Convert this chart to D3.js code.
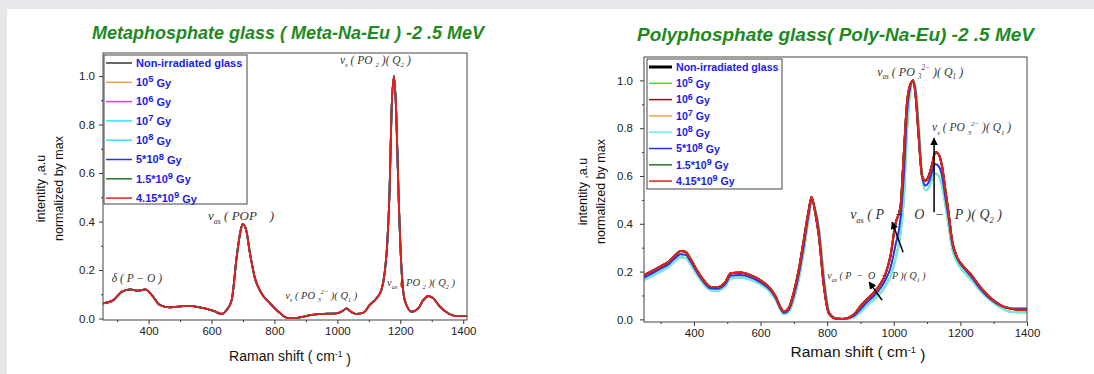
<!DOCTYPE html>
<html>
<head>
<meta charset="utf-8">
<script src="https://cdn.jsdelivr.net/npm/d3@7/dist/d3.min.js"></script>
<style>
  html, body { margin: 0; padding: 0; background: #e5e7eb; }
  #panel { position: absolute; left: 7px; top: 9px; width: 1087px; height: 365px; background: #fff; }
  svg { position: absolute; left: 0; top: 0; }
  text { font-family: Arial, 'Liberation Sans', sans-serif; }
</style>
</head>
<body>
<div id="panel"></div>
<svg id="chart" width="1094" height="374"></svg>
<script>
// legend labels (base, exponent, suffix)
const seriesLabels = [
  ['Non-irradiated glass', '', ''],
  ['10', '5', ' Gy'],
  ['10', '6', ' Gy'],
  ['10', '7', ' Gy'],
  ['10', '8', ' Gy'],
  ['5*10', '8', ' Gy'],
  ['1.5*10', '9', ' Gy'],
  ['4.15*10', '9', ' Gy']
];
const metaColors = ['#000000', '#f4a04a', '#e040e0', '#33e6f0', '#33e6f0', '#2a32e8', '#1e7a1e', '#f01818'];
const polyColors = ['#000000', '#33e633', '#8b1010', '#f4a04a', '#66f0f0', '#2a32e8', '#1e7a1e', '#f01818'];

// Meta-Na-Eu spectrum (all doses overlap)
const metaX = [255, 288, 314, 341, 367, 389, 410, 436, 468, 521, 563, 606, 632, 648, 664, 680, 692, 699, 710, 722,
  738, 759, 786, 813, 840, 872, 913, 955, 997, 1018, 1029, 1039, 1061, 1082, 1103, 1124, 1140, 1150, 1159, 1166,
  1172, 1180, 1187, 1194, 1204, 1214, 1236, 1257, 1273, 1289, 1305, 1326, 1353, 1379, 1411];
const metaY = [0.063, 0.076, 0.11, 0.12, 0.115, 0.12, 0.097, 0.056, 0.046, 0.052, 0.046, 0.032, 0.019, 0.035, 0.076, 0.255, 0.36, 0.39, 0.365, 0.27,
  0.166, 0.104, 0.063, 0.028, 0.003, 0.003, 0.014, 0.019, 0.021, 0.032, 0.042, 0.032, 0.019, 0.024, 0.056, 0.083, 0.118, 0.186, 0.32, 0.53,
  0.85, 1.0, 0.85, 0.53, 0.2, 0.076, 0.028, 0.042, 0.076, 0.093, 0.083, 0.049, 0.021, 0.01, 0.01];

// Poly-Na-Eu spectra
const polyX = [250, 275, 300, 325, 350, 360, 375, 390, 410, 430, 450, 470, 480, 495, 510, 540, 570, 600, 630, 645,
  660, 670, 685, 700, 715, 730, 745, 753, 765, 775, 790, 805, 825, 845, 860, 880, 900, 920, 940, 960,
  975, 990, 1005, 1020, 1030, 1040, 1050, 1058, 1066, 1075, 1085, 1095, 1105, 1115, 1125, 1135, 1145, 1155, 1165, 1175,
  1190, 1210, 1230, 1260, 1290, 1320, 1350, 1375, 1400];
const polyHigh = [0.185, 0.203, 0.222, 0.242, 0.277, 0.286, 0.282, 0.252, 0.203, 0.162, 0.136, 0.134, 0.138, 0.158, 0.193, 0.196, 0.185, 0.163, 0.128, 0.097,
  0.05, 0.032, 0.048, 0.115, 0.21, 0.335, 0.46, 0.512, 0.44, 0.35, 0.14, 0.025, 0.004, 0.002, 0.005, 0.02, 0.055, 0.085, 0.112, 0.148,
  0.19, 0.265, 0.4, 0.47, 0.69, 0.91, 0.985, 1.0, 0.93, 0.76, 0.6, 0.58, 0.6, 0.648, 0.7, 0.69, 0.64, 0.54, 0.44, 0.33,
  0.26, 0.22, 0.19, 0.135, 0.09, 0.06, 0.045, 0.04, 0.04];
const polyMid = [0.175, 0.193, 0.212, 0.232, 0.265, 0.273, 0.27, 0.242, 0.195, 0.155, 0.13, 0.128, 0.132, 0.15, 0.183, 0.186, 0.176, 0.155, 0.121, 0.09,
  0.045, 0.027, 0.04, 0.1, 0.19, 0.31, 0.445, 0.5, 0.45, 0.37, 0.16, 0.03, 0.004, 0.002, 0.004, 0.014, 0.042, 0.072, 0.098, 0.13,
  0.165, 0.215, 0.31, 0.42, 0.6, 0.87, 0.975, 1.0, 0.945, 0.78, 0.6, 0.56, 0.575, 0.615, 0.65, 0.64, 0.6, 0.51, 0.42, 0.32,
  0.255, 0.215, 0.183, 0.128, 0.085, 0.058, 0.047, 0.045, 0.045];
const polyLow = [0.165, 0.182, 0.2, 0.22, 0.252, 0.26, 0.257, 0.23, 0.185, 0.146, 0.122, 0.12, 0.124, 0.14, 0.172, 0.175, 0.166, 0.146, 0.113, 0.084,
  0.04, 0.022, 0.032, 0.085, 0.17, 0.29, 0.43, 0.49, 0.455, 0.38, 0.18, 0.035, 0.005, 0.002, 0.003, 0.01, 0.03, 0.058, 0.083, 0.11,
  0.14, 0.18, 0.25, 0.36, 0.5, 0.8, 0.96, 1.0, 0.96, 0.8, 0.6, 0.54, 0.55, 0.585, 0.61, 0.6, 0.56, 0.48, 0.39, 0.3,
  0.24, 0.2, 0.17, 0.12, 0.08, 0.05, 0.032, 0.03, 0.03];
const polySeries = [polyHigh, polyLow, polyHigh, polyLow, polyLow, polyMid, polyHigh, polyHigh];

const xTicks = [400, 600, 800, 1000, 1200, 1400];
const xMinor = [300, 500, 700, 900, 1100, 1300];
const yTicks = [0, 0.2, 0.4, 0.6, 0.8, 1.0];
const yMinor = [0.1, 0.3, 0.5, 0.7, 0.9];

// annotations: [x, y, font size, parts]; part = [text, 'sub' | 'sup' | '']
const metaNotes = [
  [283, 0.15, 11.5, [['δ ( P − O )', '']]],
  [589, 0.406, 13, [['ν', ''], ['as', 'sub'], [' ( POP    )', '']]],
  [834, 0.08, 10.5, [['ν', ''], ['s', 'sub'], [' ( PO ', ''], ['3', 'sub'], ['2−', 'sup'], [' )( Q', ''], ['1', 'sub'], [' )', '']]],
  [1158, 0.134, 10.5, [['ν', ''], ['as', 'sub'], [' ( PO ', ''], ['2', 'sub'], [' )( Q', ''], ['2', 'sub'], [' )', '']]],
  [1008, 1.05, 11.5, [['ν', ''], ['s', 'sub'], [' ( PO ', ''], ['2', 'sub'], [' )( Q', ''], ['2', 'sub'], [' )', '']]]
];
const polyNotes = [
  [950, 1.02, 12, [['ν', ''], ['as', 'sub'], [' ( PO ', ''], ['3', 'sub'], ['2−', 'sup'], [' )( Q', ''], ['1', 'sub'], [' )', '']]],
  [1115, 0.787, 11.5, [['ν', ''], ['s', 'sub'], [' ( PO ', ''], ['3', 'sub'], ['2−', 'sup'], [' )( Q', ''], ['1', 'sub'], [' )', '']]],
  [869, 0.419, 14, [['ν', ''], ['as', 'sub'], [' ( P   −   O   −   P )( Q', ''], ['2', 'sub'], [' )', '']]],
  [800, 0.168, 10, [['ν', ''], ['as', 'sub'], [' ( P  −  O  −  P )( Q', ''], ['1', 'sub'], [' )', '']]]
];
// arrows: [x1, y1, x2, y2] in data units
const polyArrows = [
  [1121, 0.448, 1121, 0.758],
  [1028, 0.281, 995, 0.407],
  [965, 0.08, 926, 0.156]
];

const svg = d3.select('#chart');

svg.append('defs').append('marker')
  .attr('id', 'head')
  .attr('viewBox', '0 0 10 10')
  .attr('refX', 9).attr('refY', 5)
  .attr('markerWidth', 5).attr('markerHeight', 5)
  .attr('orient', 'auto')
  .append('path')
  .attr('d', 'M0,0 L10,5 L0,10 z')
  .attr('fill', '#000');

function drawPanel(cfg) {
  const x = d3.scaleLinear().domain(cfg.xDomain).range([cfg.left, cfg.right]);
  const y = d3.scaleLinear().domain(cfg.yDomain).range([cfg.bottom, cfg.top]);
  const g = svg.append('g');

  // title
  g.append('text')
    .attr('x', cfg.titleX).attr('y', cfg.titleY)
    .style('font-size', cfg.titleFont + 'px')
    .style('font-weight', 'bold')
    .style('font-style', 'italic')
    .style('fill', '#1e8a1e')
    .text(cfg.title);

  // axes
  const xAxis = g.append('g')
    .attr('transform', `translate(0,${cfg.bottom})`)
    .call(d3.axisBottom(x).tickValues(xTicks).tickSize(4).tickPadding(3).tickFormat(d3.format('d')));
  g.append('g')
    .attr('transform', `translate(0,${cfg.bottom})`)
    .call(d3.axisBottom(x).tickValues(xMinor).tickSize(2).tickFormat(''));
  const yAxis = g.append('g')
    .attr('transform', `translate(${cfg.left},0)`)
    .call(d3.axisLeft(y).tickValues(yTicks).tickSize(4).tickPadding(cfg.yPad).tickFormat(d3.format('.1f')));
  g.append('g')
    .attr('transform', `translate(${cfg.left},0)`)
    .call(d3.axisLeft(y).tickValues(yMinor).tickSize(2).tickFormat(''));
  g.selectAll('.domain').remove();
  g.selectAll('.tick line').attr('stroke', '#333');
  g.selectAll('.tick text')
    .style('font-size', '11.5px')
    .style('font-family', 'Arial, sans-serif')
    .style('fill', '#222');

  // clipped curves
  const clipId = 'clip' + cfg.id;
  g.append('clipPath').attr('id', clipId)
    .append('rect')
    .attr('x', cfg.left).attr('y', cfg.top)
    .attr('width', cfg.right - cfg.left).attr('height', cfg.bottom - cfg.top);

  const line = d3.line()
    .x(d => x(d[0]))
    .y(d => y(d[1]))
    .curve(d3.curveMonotoneX);

  g.append('g').attr('clip-path', `url(#${clipId})`)
    .selectAll('path')
    .data(cfg.series)
    .join('path')
    .attr('d', d => line(cfg.xs.map((v, i) => [v, d[i]])))
    .attr('fill', 'none')
    .attr('stroke', (d, i) => cfg.colors[i])
    .attr('stroke-width', cfg.lineWidth)
    .attr('stroke-linejoin', 'round');

  // frame
  g.append('rect')
    .attr('x', cfg.left).attr('y', cfg.top)
    .attr('width', cfg.right - cfg.left).attr('height', cfg.bottom - cfg.top)
    .attr('fill', 'none')
    .attr('stroke', '#444')
    .attr('stroke-width', 1);

  // legend
  const lg = g.append('g');
  lg.append('rect')
    .attr('x', cfg.legend.x).attr('y', cfg.legend.y)
    .attr('width', cfg.legend.w).attr('height', cfg.legend.h)
    .attr('fill', '#fff')
    .attr('stroke', '#444');
  const rows = lg.selectAll('g.row')
    .data(seriesLabels)
    .join('g')
    .attr('class', 'row')
    .attr('transform', (d, i) => `translate(${cfg.legend.x},${cfg.legend.first + i * cfg.legend.step})`);
  rows.append('line')
    .attr('x1', 2).attr('x2', cfg.legend.lineLen)
    .attr('stroke', (d, i) => cfg.colors[i])
    .attr('stroke-width', (d, i) => i === 0 ? cfg.legend.blackWidth : 1.5);
  const lt = rows.append('text')
    .attr('x', cfg.legend.lineLen + 4)
    .attr('dy', '0.35em')
    .style('font-size', cfg.legend.font + 'px')
    .style('font-weight', 'bold')
    .style('fill', '#1a1af0');
  lt.append('tspan').text(d => d[0]);
  lt.append('tspan')
    .attr('dy', d => d[1] ? '-0.4em' : 0)
    .style('font-size', d => d[1] ? '0.85em' : null)
    .text(d => d[1]);
  lt.append('tspan')
    .attr('dy', d => d[1] ? '0.4em' : 0)
    .text(d => d[2]);

  // axis labels
  g.append('text')
    .attr('x', cfg.xLabelX).attr('y', cfg.xLabelY)
    .attr('text-anchor', 'middle')
    .style('font-size', cfg.xLabelFont + 'px')
    .style('fill', '#111')
    .call(t => {
      t.append('tspan').text('Raman shift ( cm');
      t.append('tspan').attr('dy', '-0.45em').style('font-size', '0.6em').text('-1');
      t.append('tspan').attr('dy', '0.45em').text(' )');
    });
  const yl = g.append('text')
    .attr('transform', `translate(${cfg.yLabelX},${(cfg.top + cfg.bottom) / 2 + 2}) rotate(-90)`)
    .attr('text-anchor', 'middle')
    .style('font-size', '12.5px')
    .style('fill', '#111');
  yl.append('tspan').attr('x', 0).attr('dy', 0).text('intentity ,a.u');
  yl.append('tspan').attr('x', 0).attr('dy', '1.45em').text('normalized by max');

  // annotations
  cfg.notes.forEach(n => {
    const t = g.append('text')
      .attr('x', x(n[0])).attr('y', y(n[1]))
      .style('font-family', "'Liberation Serif', 'Times New Roman', serif")
      .style('font-style', 'italic')
      .style('font-size', n[2] + 'px')
      .style('fill', '#333')
      .attr('xml:space', 'preserve');
    let shift = 0;
    n[3].forEach(p => {
      const target = p[1] === 'sub' ? 0.3 : p[1] === 'sup' ? -0.45 : 0;
      t.append('tspan')
        .attr('dy', ((target - shift) * n[2]).toFixed(2))
        .style('font-size', p[1] ? (n[2] * 0.6) + 'px' : null)
        .text(p[0]);
      shift = target;
    });
  });

  g.selectAll('line.arrow')
    .data(cfg.arrows)
    .join('line')
    .attr('class', 'arrow')
    .attr('x1', d => x(d[0])).attr('y1', d => y(d[1]))
    .attr('x2', d => x(d[2])).attr('y2', d => y(d[3]))
    .attr('stroke', '#000')
    .attr('stroke-width', 1.5)
    .attr('marker-end', 'url(#head)');
}

drawPanel({
  id: 'meta',
  title: 'Metaphosphate glass ( Meta-Na-Eu ) -2 .5 MeV',
  titleX: 92, titleY: 39, titleFont: 18,
  left: 103, right: 467, top: 53, bottom: 320,
  xDomain: [255, 1412], yDomain: [-0.006, 1.095],
  yPad: 4,
  xs: metaX,
  series: seriesLabels.map(() => metaY),
  colors: metaColors,
  lineWidth: 1.8,
  legend: { x: 104, y: 55, w: 143, h: 149, first: 63, step: 19.3, lineLen: 28, font: 11, blackWidth: 1.2 },
  xLabelX: 290, xLabelY: 361, xLabelFont: 14,
  yLabelX: 45,
  notes: metaNotes,
  arrows: []
});

drawPanel({
  id: 'poly',
  title: 'Polyphosphate glass( Poly-Na-Eu) -2 .5 MeV',
  titleX: 637, titleY: 41, titleFont: 19,
  left: 644, right: 1027, top: 57, bottom: 322,
  xDomain: [250, 1400], yDomain: [-0.011, 1.098],
  yPad: 7,
  xs: polyX,
  series: polySeries,
  colors: polyColors,
  lineWidth: 2,
  legend: { x: 647, y: 59, w: 135, h: 130, first: 67, step: 16.3, lineLen: 25, font: 10.6, blackWidth: 3 },
  xLabelX: 858, xLabelY: 357, xLabelFont: 15.5,
  yLabelX: 587,
  notes: polyNotes,
  arrows: polyArrows
});
</script>
</body>
</html>
